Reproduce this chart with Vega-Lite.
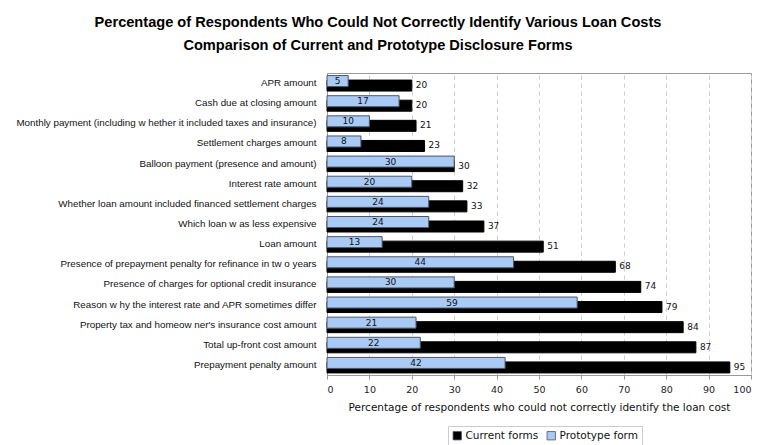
{
  "$schema": "https://vega.github.io/schema/vega-lite/v6.json",
  "autosize": "none",
  "width": 424,
  "height": 302,
  "padding": {"left": 327, "top": 73, "right": 6, "bottom": 70},
  "background": "white",
  "title": {
    "text": ["Percentage of Respondents Who Could Not Correctly Identify Various Loan Costs", "Comparison of Current and Prototype Disclosure Forms"],
    "anchor": "middle",
    "frame": "group",
    "dx": -161,
    "offset": 20,
    "font": "Liberation Sans Narrow, Liberation Sans, Arial",
    "fontWeight": "bold",
    "fontSize": 14.6,
    "lineHeight": 23,
    "color": "#000000"
  },
  "data": {
    "values": [
      {"item": "APR amount", "form": "Current forms", "value": 20},
      {"item": "Cash due at closing amount", "form": "Current forms", "value": 20},
      {"item": "Monthly payment (including w hether it included taxes and insurance)", "form": "Current forms", "value": 21},
      {"item": "Settlement charges amount", "form": "Current forms", "value": 23},
      {"item": "Balloon payment (presence and amount)", "form": "Current forms", "value": 30},
      {"item": "Interest rate amount", "form": "Current forms", "value": 32},
      {"item": "Whether loan amount included financed settlement charges", "form": "Current forms", "value": 33},
      {"item": "Which loan w as less expensive", "form": "Current forms", "value": 37},
      {"item": "Loan amount", "form": "Current forms", "value": 51},
      {"item": "Presence of prepayment penalty for refinance in tw o years", "form": "Current forms", "value": 68},
      {"item": "Presence of charges for optional credit insurance", "form": "Current forms", "value": 74},
      {"item": "Reason w hy the interest rate and APR sometimes differ", "form": "Current forms", "value": 79},
      {"item": "Property tax and homeow ner's insurance cost amount", "form": "Current forms", "value": 84},
      {"item": "Total up-front cost amount", "form": "Current forms", "value": 87},
      {"item": "Prepayment penalty amount", "form": "Current forms", "value": 95},
      {"item": "APR amount", "form": "Prototype form", "value": 5},
      {"item": "Cash due at closing amount", "form": "Prototype form", "value": 17},
      {"item": "Monthly payment (including w hether it included taxes and insurance)", "form": "Prototype form", "value": 10},
      {"item": "Settlement charges amount", "form": "Prototype form", "value": 8},
      {"item": "Balloon payment (presence and amount)", "form": "Prototype form", "value": 30},
      {"item": "Interest rate amount", "form": "Prototype form", "value": 20},
      {"item": "Whether loan amount included financed settlement charges", "form": "Prototype form", "value": 24},
      {"item": "Which loan w as less expensive", "form": "Prototype form", "value": 24},
      {"item": "Loan amount", "form": "Prototype form", "value": 13},
      {"item": "Presence of prepayment penalty for refinance in tw o years", "form": "Prototype form", "value": 44},
      {"item": "Presence of charges for optional credit insurance", "form": "Prototype form", "value": 30},
      {"item": "Reason w hy the interest rate and APR sometimes differ", "form": "Prototype form", "value": 59},
      {"item": "Property tax and homeow ner's insurance cost amount", "form": "Prototype form", "value": 21},
      {"item": "Total up-front cost amount", "form": "Prototype form", "value": 22},
      {"item": "Prepayment penalty amount", "form": "Prototype form", "value": 42}
    ]
  },
  "encoding": {
    "y": {
      "field": "item",
      "type": "nominal",
      "sort": ["APR amount", "Cash due at closing amount", "Monthly payment (including w hether it included taxes and insurance)", "Settlement charges amount", "Balloon payment (presence and amount)", "Interest rate amount", "Whether loan amount included financed settlement charges", "Which loan w as less expensive", "Loan amount", "Presence of prepayment penalty for refinance in tw o years", "Presence of charges for optional credit insurance", "Reason w hy the interest rate and APR sometimes differ", "Property tax and homeow ner's insurance cost amount", "Total up-front cost amount", "Prepayment penalty amount"],
      "scale": {"paddingInner": 0, "paddingOuter": 0},
      "axis": {
        "title": null,
        "labelFont": "Liberation Sans, Arial",
        "labelFontSize": 9.8,
        "labelColor": "#111111",
        "labelPadding": 11,
        "ticks": false,
        "domainColor": "#999999",
        "labelLimit": 400
      }
    }
  },
  "layer": [
    {
      "layer": [
        {
          "transform": [{"filter": "datum.form === 'Current forms'"}],
          "mark": {"type": "bar", "height": 11, "yOffset": 2.5, "stroke": "#000000", "strokeWidth": 1},
          "encoding": {
            "x": {
              "field": "value",
              "type": "quantitative",
              "scale": {"domain": [0, 100]},
              "axis": {
                "title": "Percentage of respondents who could not correctly identify the loan cost",
                "values": [0, 10, 20, 30, 40, 50, 60, 70, 80, 90, 100],
                "grid": true,
                "gridDash": [4, 4],
                "gridColor": "#cccccc",
                "domainColor": "#999999",
                "tickColor": "#999999",
                "tickSize": 4,
                "labelFont": "DejaVu Sans",
                "labelFontSize": 9.5,
                "labelColor": "#222222",
                "labelPadding": 5,
                "titleFont": "DejaVu Sans",
                "titleFontSize": 10.5,
                "titleFontWeight": "normal",
                "titleColor": "#111111",
                "titlePadding": 9
              }
            },
            "color": {
              "field": "form",
              "type": "nominal",
              "scale": {"domain": ["Current forms", "Prototype form"], "range": ["#000000", "#a8caf4"]},
              "legend": {
                "title": null,
                "orient": "none",
                "direction": "horizontal",
                "legendX": 121,
                "legendY": 353,
                "symbolType": "square",
                "symbolSize": 70,
                "symbolStrokeColor": "#333333",
                "symbolStrokeWidth": 0.8,
                "labelFont": "DejaVu Sans",
                "labelFontSize": 10.5,
                "labelColor": "#111111",
                "columnPadding": 6,
                "labelOffset": 3,
                "strokeColor": "#cccccc",
                "padding": 4
              }
            }
          }
        },
        {
          "transform": [{"filter": "datum.form === 'Prototype form'"}],
          "mark": {"type": "bar", "height": 11, "yOffset": -2, "stroke": "#4d5566", "strokeWidth": 1},
          "encoding": {
            "x": {"field": "value", "type": "quantitative", "scale": {"domain": [0, 100]}},
            "color": {"field": "form", "type": "nominal"}
          }
        },
        {
          "transform": [{"filter": "datum.form === 'Current forms'"}],
          "mark": {"type": "text", "align": "left", "dx": 4, "yOffset": 2, "baseline": "middle", "font": "DejaVu Sans", "fontSize": 9, "color": "#111111"},
          "encoding": {
            "x": {"field": "value", "type": "quantitative", "scale": {"domain": [0, 100]}},
            "text": {"field": "value", "type": "quantitative"}
          }
        }
      ]
    },
    {
      "transform": [{"filter": "datum.form === 'Prototype form'"}],
      "mark": {"type": "text", "align": "center", "yOffset": -2, "baseline": "middle", "font": "DejaVu Sans", "fontSize": 9, "color": "#111111"},
      "encoding": {
        "x": {"field": "value", "type": "quantitative", "scale": {"domain": [0, 200]}, "axis": null},
        "text": {"field": "value", "type": "quantitative"}
      }
    }
  ],
  "resolve": {"scale": {"x": "independent"}},
  "config": {
    "view": {"stroke": "#999999", "strokeWidth": 1}
  }
}
